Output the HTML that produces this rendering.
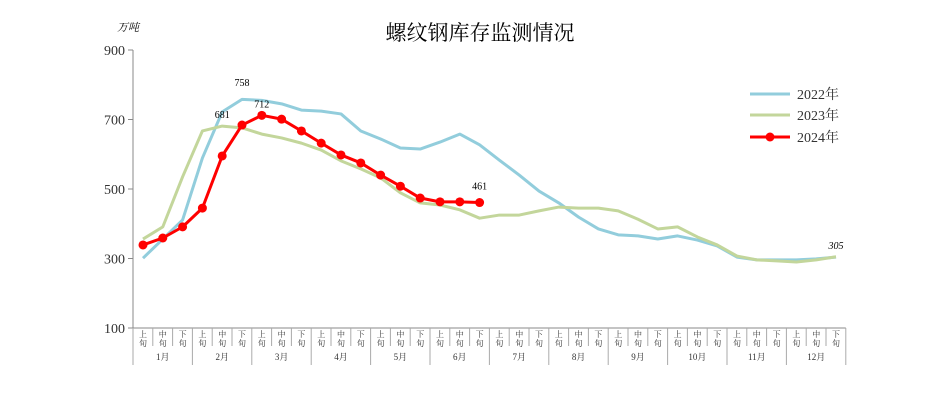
<!DOCTYPE html>
<html><head><meta charset="utf-8"><style>
body{margin:0;background:#fff;font-family:"Liberation Sans","Noto Sans CJK SC",sans-serif}
svg text{font-family:"Liberation Serif","Noto Serif CJK SC","Noto Sans CJK SC",serif}
</style></head><body>
<svg id="c" width="942" height="404">
<rect width="942" height="404" fill="#fff"/>
<text x="480" y="40" font-size="21" text-anchor="middle" fill="#000">螺纹钢库存监测情况</text>
<text x="117" y="31" font-size="11" font-style="italic" fill="#000">万吨</text>
<g id="ax"></g><g id="series"></g>
<g>
<line x1="750" y1="94" x2="790" y2="94" stroke="#92cddc" stroke-width="3"/>
<text x="797" y="99" font-size="14" fill="#333">2022年</text>
<line x1="750" y1="115" x2="790" y2="115" stroke="#c3d69b" stroke-width="3"/>
<text x="797" y="120" font-size="14" fill="#333">2023年</text>
<line x1="750" y1="137" x2="790" y2="137" stroke="#ff0000" stroke-width="3"/>
<circle cx="770" cy="137" r="4.5" fill="#ff0000"/>
<text x="797" y="142" font-size="14" fill="#333">2024年</text>
</g>
</svg>
<script>
const months=["1月","2月","3月","4月","5月","6月","7月","8月","9月","10月","11月","12月"];
const periods=["上旬","中旬","下旬"];
const yTicks=[100,300,500,700,900];
const s2022=[301,356,411,589,722,758,755,745,727,724,716,667,644,618,615,635,658,627,583,540,494,460,419,385,368,365,356,365,353,336,304,296,296,296,299,304];
const s2023=[356,391,535,667,691,681,676,658,647,632,612,581,558,532,489,460,454,440,416,425,425,437,448,445,445,437,413,385,391,362,339,307,296,293,290,296,305];
const s2024=[339,359,391,445,595,684,712,701,667,632,598,575,540,508,474,463,463,461];
s2023.splice(4,1);
const NS="http://www.w3.org/2000/svg";
const x0=133,slot=19.8,yBase=328,yPer=0.3475;
const X=i=>x0+10+i*slot, Y=v=>yBase-(v-100)*yPer;
function mk(t,a,p){const e=document.createElementNS(NS,t);for(const k in a)e.setAttribute(k,a[k]);p.appendChild(e);return e;}
const ax=document.getElementById('ax'),sg=document.getElementById('series');
const yl=mk('line',{x1:x0,y1:50,x2:x0,y2:yBase,stroke:'#888'},ax);


yTicks.forEach(v=>{
 const t=mk('line',{x1:x0-5,y1:Y(v),x2:x0,y2:Y(v),stroke:'#888'},ax);
 
 
 const l=mk('text',{x:x0-8,y:Y(v)+5,'font-size':14,'text-anchor':'end',fill:'#333'},ax);
 l.textContent=v;
 
 
});
const n=months.length*3, xEnd=x0+n*slot;
const xl=mk('line',{x1:x0,y1:yBase,x2:xEnd,y2:yBase,stroke:'#888'},ax);


for(let i=0;i<=n;i++){
 const x=x0+i*slot;
 const ln=mk('line',{x1:x,y1:yBase,x2:x,y2:(i%3==0)?365:346,stroke:'#aaa'},ax);
 
 
}
for(let i=0;i<n;i++){
 const p=periods[i%3];
 const t1=mk('text',{x:X(i),y:337,'font-size':8,'text-anchor':'middle',fill:'#333'},ax);
 t1.textContent=p[0];
 
 
 const t2=mk('text',{x:X(i),y:346,'font-size':8,'text-anchor':'middle',fill:'#333'},ax);
 t2.textContent=p[1];
 
 
}
months.forEach((m,j)=>{
 const t=mk('text',{x:X(j*3+1),y:360,'font-size':9,'text-anchor':'middle',fill:'#333'},ax);
 t.textContent=m;
 
 
});
function line(d,c,name){
 const pl=mk('polyline',{points:d.map((v,i)=>X(i)+','+Y(v)).join(' '),fill:'none',stroke:c,'stroke-width':3,'stroke-linejoin':'round'},sg);
 
 
}
line(s2022,'#92cddc','series-2022');
line(s2023,'#c3d69b','series-2023');
line(s2024,'#ff0000','series-2024');
s2024.forEach((v,i)=>{
 const c=mk('circle',{cx:X(i),cy:Y(v),r:4.5,fill:'#ff0000'},sg);
 
 
});
function lab(i,v,txt,italic){
 const t=mk('text',{x:X(i),y:Y(v)-8,'font-size':10,'text-anchor':'middle',fill:'#000'},sg);
 if(italic)t.setAttribute('font-style','italic');
 t.textContent=txt;
 
 
}
lab(5,s2022[5]+15,s2022[5]);
lab(4,s2023[4],s2023[4]);
lab(6,s2024[6],s2024[6]);
lab(17,s2024[17]+15,s2024[17]);
lab(35,s2023[35],s2023[35],true);
</script>
</body></html>
